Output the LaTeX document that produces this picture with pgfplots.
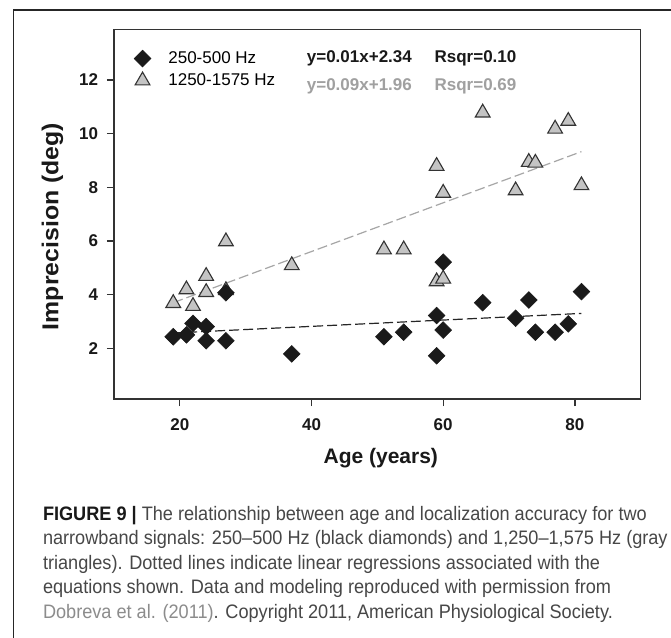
\documentclass[border=0pt]{standalone}
\usepackage{fontspec}
\setmainfont{Liberation Sans}
\newfontfamily\ylabfont[FakeStretch=1.08]{Liberation Sans}
\newfontfamily\capfont[FakeStretch=0.93]{Liberation Sans}
\usepackage{pgfplots}
\usepackage{pgfplotstable}
\pgfplotsset{compat=1.18}
\definecolor{axgray}{HTML}{333333}
\definecolor{trifill}{HTML}{C4C4C4}
\definecolor{diafill}{HTML}{1A1A1A}
\definecolor{eqgray}{HTML}{A0A0A0}
\definecolor{capgray}{HTML}{474747}
\definecolor{linkgray}{HTML}{8C8C8C}
\definecolor{reggray}{HTML}{A6A6A6}

\pgfplotstableread{
x y
19 2.43
21 2.50
22 2.93
24 2.81
24 2.28
27 2.28
27 4.07
37 1.79
51 2.43
54 2.60
59 3.22
59 1.72
60 5.21
60 2.68
66 3.70
71 3.12
73 3.80
74 2.60
77 2.60
79 2.91
81 4.11
}\lowband

\pgfplotstableread{
x y
19 3.68
21 4.19
22 3.57
24 4.69
24 4.09
27 5.98
27 4.16
37 5.09
51 5.68
54 5.68
59 4.49
60 4.59
59 8.79
60 7.79
66 10.78
71 7.88
73 8.94
74 8.91
77 10.18
79 10.47
81 8.07
}\highband

\begin{document}
\begin{tikzpicture}
\useasboundingbox (0pt,0pt) rectangle (671pt,637pt);
\fill[white] (0pt,0pt) rectangle (671pt,637pt);
\draw[line width=1.2pt, color=black!85] (13.5pt,-5pt) -- (13.5pt,627pt) -- (680pt,627pt);
\begin{axis}[
  at={(114pt,238pt)}, anchor=south west,
  scale only axis, width=526.7pt, height=369.7pt,
  xmin=10, xmax=90, ymin=0.11, ymax=13.89,
  xtick={20,40,60,80}, ytick={2,4,6,8,10,12},
  tick align=outside, tick pos=left,
  major tick length=7pt,
  axis line style={line width=1.5pt, color=axgray},
  every tick/.style={line width=1.3pt, color=axgray},
  /pgf/number format/assume math mode=true,
  ticklabel style={font=\bfseries\fontsize{17}{17}\selectfont, text=black!90, inner sep=0pt},
  yticklabel style={anchor=east, xshift=-8.7pt},
  xticklabel style={anchor=north, yshift=-12.3pt},
  xlabel={Age (years)}, ylabel={Imprecision (deg)},
  label style={text=black!90, inner sep=0pt},
  xlabel style={font=\bfseries\fontsize{21}{21}\selectfont, at={(axis description cs:0.5066,-0.1739)}, anchor=base},
  ylabel style={font=\ylabfont\bfseries\fontsize{23}{23}\selectfont, at={(axis description cs:-0.1058,0.4666)}, anchor=base},
  legend style={at={(rel axis cs:0.03835,0.9435)}, anchor=north west, draw=none, fill=none,
    inner sep=0pt, outer sep=0pt, row sep=5.2pt, column sep=17.5pt,
    font=\fontsize{17}{17}\selectfont, nodes={inner sep=0pt}},
  legend cell align=left,
  reverse legend,
  legend image code/.code={\draw[mark repeat=1,mark phase=1,#1] plot coordinates {(0pt,0pt)};},
]
\addplot[color=reggray, line width=1.2pt, dash pattern=on 10pt off 4pt, forget plot]
  coordinates {(19,3.70) (81,9.33)};
\addplot[color=black!85, line width=1.2pt, dash pattern=on 10pt off 4pt, forget plot]
  coordinates {(19,2.57) (81,3.30)};
\addplot[only marks, mark=triangle*, mark size=8.5pt,
  mark options={fill=trifill, draw=axgray, line width=1.1pt}]
  table[x=x,y=y] {\highband};
\addlegendentry{1250-1575 Hz}
\addplot[only marks, mark=square*, mark size=5.9pt,
  mark options={rotate=45, fill=diafill, draw=diafill, line width=0.6pt}]
  table[x=x,y=y] {\lowband};
\addlegendentry{250-500 Hz}
\node[anchor=base west, inner sep=0pt, font=\bfseries\fontsize{17}{17}\selectfont, text=black!90] at (axis cs:39.27,12.645) {y=0.01x+2.34};
\node[anchor=base west, inner sep=0pt, font=\bfseries\fontsize{17}{17}\selectfont, text=black!90] at (axis cs:58.67,12.645) {Rsqr=0.10};
\node[anchor=base west, inner sep=0pt, font=\bfseries\fontsize{17}{17}\selectfont, text=eqgray] at (axis cs:39.27,11.60) {y=0.09x+1.96};
\node[anchor=base west, inner sep=0pt, font=\bfseries\fontsize{17}{17}\selectfont, text=eqgray] at (axis cs:58.67,11.60) {Rsqr=0.69};
\end{axis}
\begin{scope}[every node/.style={anchor=base west, inner sep=0pt, font=\capfont\fontsize{19.5}{19.5}\selectfont, text=capgray}]
\node at (42.8pt,117pt) {{\bfseries\color{black!90}FIGURE 9 |} The relationship between age and localization accuracy for two};
\node at (42.8pt,92.5pt) {narrowband signals: 250–500 Hz (black diamonds) and 1,250–1,575 Hz (gray};
\node at (42.8pt,68pt) {triangles). Dotted lines indicate linear regressions associated with the};
\node at (42.8pt,43.5pt) {equations shown. Data and modeling reproduced with permission from};
\node at (42.8pt,19pt) {{\color{linkgray}Dobreva et al. (2011)}. Copyright 2011, American Physiological Society.};
\end{scope}
\end{tikzpicture}
\end{document}
